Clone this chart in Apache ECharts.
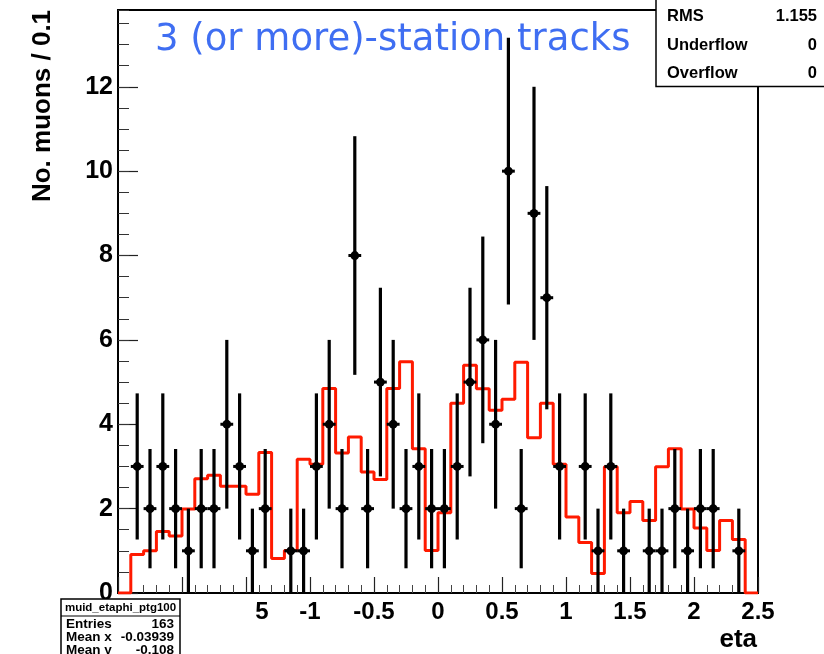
<!DOCTYPE html>
<html>
<head>
<meta charset="utf-8">
<script src="https://cdn.jsdelivr.net/npm/echarts@6/dist/echarts.min.js"></script>
<style>
  html, body { margin: 0; padding: 0; background: #fff; }
  #chart { width: 824px; height: 654px; }
</style>
</head>
<body>
<div id="chart"></div>
<script>
// Binning of the eta histogram
const etaMin = -2.5;
const etaMax = 2.5;
const binWidth = 0.1;
const yMax = 13.82;

// Muons per eta bin (points with Poisson error bars)
const dataCounts = [
  0, 3, 2, 3, 2, 1, 2, 2, 4, 3,
  1, 2, 0, 1, 1, 3, 4, 2, 8, 2,
  5, 4, 2, 3, 2, 2, 3, 5, 6, 4,
  10, 2, 9, 7, 3, 0, 3, 1, 3, 1,
  0, 1, 1, 2, 1, 2, 2, 0, 1, 0
];

// Normalised reference shape (red outline)
const refCounts = [
  0, 0.91, 1.0, 1.46, 1.35, 1.99, 2.71, 2.79, 2.53, 2.53,
  2.34, 3.33, 0.82, 1.01, 3.17, 3.05, 4.85, 3.32, 3.70, 2.87,
  2.69, 4.85, 5.48, 3.42, 1.01, 1.90, 4.50, 5.40, 4.84, 4.33,
  4.59, 5.47, 3.68, 4.50, 3.05, 1.80, 1.20, 0.46, 2.99, 1.90,
  2.17, 1.72, 2.99, 3.42, 1.99, 1.54, 1.01, 1.72, 1.27, 0
];

// Text of the two statistics boxes
const statsName = 'muid_etaphi_ptg100';
const statsTopRows = [['RMS', '1.155'], ['Underflow', '0'], ['Overflow', '0']];
const statsBottomRows = [['Entries', '163'], ['Mean x', '-0.03939'], ['Mean y', '-0.108']];

const titleText = '3 (or more)-station tracks';
const xTitle = 'eta';
const yTitle = 'No. muons / 0.1';

const FONT = '"Liberation Sans", Helvetica, Arial, sans-serif';

// Step outline: left edge of every bin, plus the closing edge
const stepData = refCounts.map((v, i) => [etaMin + i * binWidth, v]);
stepData.push([etaMax, refCounts[refCounts.length - 1]]);

// Data points at bin centres (empty bins are not drawn)
const pointData = [];
dataCounts.forEach((n, i) => {
  if (n > 0) pointData.push([etaMin + (i + 0.5) * binWidth, n]);
});

const chart = echarts.init(document.getElementById('chart'), null, { renderer: 'canvas' });

function statsGraphics() {
  const g = [];
  // upper right box
  g.push({ type: 'rect', z: 100, shape: { x: 656, y: -2, width: 172, height: 88.5 },
    style: { fill: '#fff', stroke: '#000', lineWidth: 1.5 } });
  const topY = [16, 45, 73];
  statsTopRows.forEach((r, i) => {
    g.push({ type: 'text', z: 101, style: { x: 667, y: topY[i], text: r[0], fill: '#000',
      font: 'bold 16.5px ' + FONT, textAlign: 'left', textVerticalAlign: 'middle' } });
    g.push({ type: 'text', z: 101, style: { x: 817, y: topY[i], text: r[1], fill: '#000',
      font: 'bold 16.5px ' + FONT, textAlign: 'right', textVerticalAlign: 'middle' } });
  });
  // lower left box
  g.push({ type: 'rect', z: 100, shape: { x: 61, y: 599, width: 119, height: 62 },
    style: { fill: '#fff', stroke: '#000', lineWidth: 1.5 } });
  g.push({ type: 'line', z: 101, shape: { x1: 61, y1: 616, x2: 180, y2: 616 },
    style: { stroke: '#000', lineWidth: 1.2 } });
  g.push({ type: 'text', z: 101, style: { x: 120.5, y: 608, text: statsName, fill: '#000',
    font: 'bold 11.5px ' + FONT, textAlign: 'center', textVerticalAlign: 'middle' } });
  const botY = [624.5, 637.5, 650.5];
  statsBottomRows.forEach((r, i) => {
    g.push({ type: 'text', z: 101, style: { x: 66, y: botY[i], text: r[0], fill: '#000',
      font: 'bold 13.5px ' + FONT, textAlign: 'left', textVerticalAlign: 'middle' } });
    g.push({ type: 'text', z: 101, style: { x: 174, y: botY[i], text: r[1], fill: '#000',
      font: 'bold 13.5px ' + FONT, textAlign: 'right', textVerticalAlign: 'middle' } });
  });
  // axis titles
  g.push({ type: 'text', z: 50, x: 43, y: 106, rotation: Math.PI / 2,
    style: { x: 0, y: 0, text: yTitle, fill: '#000', font: 'bold 26px ' + FONT,
      textAlign: 'center', textVerticalAlign: 'middle' } });
  g.push({ type: 'text', z: 50, style: { x: 757, y: 640, text: xTitle, fill: '#000',
    font: 'bold 26px ' + FONT, textAlign: 'right', textVerticalAlign: 'middle' } });
  return g;
}

const option = {
  animation: false,
  backgroundColor: '#fff',
  title: {
    text: titleText,
    left: 155,
    top: 22,
    padding: 0,
    textStyle: { color: '#3f6ef2', fontSize: 37, fontWeight: 'normal', fontFamily: '"DejaVu Sans", sans-serif' }
  },
  grid: {
    left: 118, right: 66, top: 10, bottom: 61,
    show: true, borderColor: '#000', borderWidth: 2, backgroundColor: 'transparent'
  },
  xAxis: {
    type: 'value',
    min: etaMin, max: etaMax, interval: 0.5,
    axisLine: { show: true, onZero: false, lineStyle: { color: '#000', width: 2 } },
    axisTick: { show: true, inside: true, length: 16, lineStyle: { color: '#222', width: 1.2 } },
    minorTick: { show: true, splitNumber: 5, length: 8, lineStyle: { color: '#444', width: 1 } },
    splitLine: { show: false },
    axisLabel: {
      margin: 7,
      color: '#000',
      fontSize: 24,
      fontWeight: 'bold',
      fontFamily: FONT,
      formatter: function (v) {
        const r = Math.round(v * 10) / 10;
        if (r < -1.5) return '';
        if (r === -1.5) return '{p|5}';
        return String(r);
      },
      rich: { p: { padding: [0, 0, 0, 32], fontSize: 24, fontWeight: 'bold', fontFamily: FONT, color: '#000' } }
    }
  },
  yAxis: [
    {
      type: 'value',
      min: 0, max: yMax, interval: 2,
      position: 'left',
      axisLine: { show: true, onZero: false, lineStyle: { color: '#000', width: 2 } },
      axisTick: { show: true, inside: true, length: 20, lineStyle: { color: '#222', width: 1.2 } },
      splitLine: { show: false },
      axisLabel: {
        margin: 5, color: '#000', fontSize: 25, fontWeight: 'bold', fontFamily: FONT,
        showMaxLabel: false
      }
    },
    {
      type: 'value',
      min: 0, max: yMax, interval: 0.5,
      position: 'left',
      offset: 0,
      axisLine: { show: false, onZero: false },
      axisTick: { show: true, inside: true, length: 11, lineStyle: { color: '#333', width: 1 } },
      splitLine: { show: false },
      axisLabel: { show: false }
    }
  ],
  series: [
    {
      type: 'line',
      data: stepData,
      step: 'end',
      showSymbol: false,
      symbol: 'none',
      yAxisIndex: 0,
      lineStyle: { color: '#ff1a00', width: 3 },
      z: 2
    },
    {
      type: 'custom',
      data: pointData,
      yAxisIndex: 0,
      z: 3,
      renderItem: function (params, api) {
        const x = api.value(0);
        const n = api.value(1);
        const e = Math.sqrt(n);
        const top = api.coord([x, n + e]);
        const bot = api.coord([x, Math.max(0, n - e)]);
        const c = api.coord([x, n]);
        const l = api.coord([x - binWidth / 2, n]);
        const r = api.coord([x + binWidth / 2, n]);
        return {
          type: 'group',
          children: [
            { type: 'line', shape: { x1: top[0], y1: top[1], x2: bot[0], y2: bot[1] },
              style: { stroke: '#000', lineWidth: 3.2 } },
            { type: 'line', shape: { x1: l[0], y1: l[1], x2: r[0], y2: r[1] },
              style: { stroke: '#000', lineWidth: 3 } },
            { type: 'circle', shape: { cx: c[0], cy: c[1], r: 4.4 },
              style: { fill: '#000' } }
          ]
        };
      }
    }
  ],
  graphic: statsGraphics()
};

chart.setOption(option);
</script>
</body>
</html>
